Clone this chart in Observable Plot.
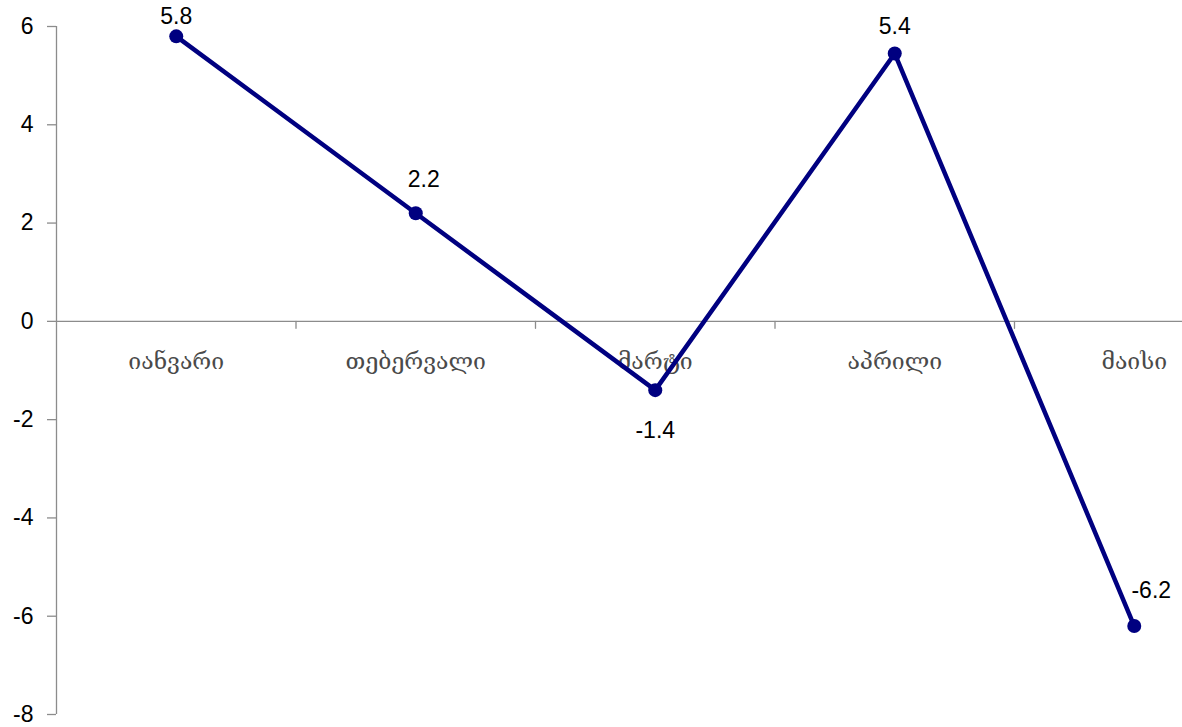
<!DOCTYPE html>
<html>
<head>
<meta charset="utf-8">
<script src="https://cdn.jsdelivr.net/npm/d3@7"></script>
<script src="https://cdn.jsdelivr.net/npm/@observablehq/plot@0.6"></script>
<style>
  html, body { margin: 0; padding: 0; background: #fff; overflow: hidden; }
  #chart { width: 1182px; height: 727px; }
</style>
</head>
<body>
<div id="chart"></div>
<script>
const months = ["იანვარი", "თებერვალი", "მარტი", "აპრილი", "მაისი"];
const values = [5.8, 2.2, -1.4, 5.45, -6.2];
const valueLabels = ["5.8", "2.2", "-1.4", "5.4", "-6.2"];
const yTicks = [-8, -6, -4, -2, 0, 2, 4, 6];

const data = months.map((m, i) => ({month: m, i, value: values[i], label: valueLabels[i]}));
const boundaries = months.slice(0, -1).map((m, i) => i + 0.5);

const numFont = "Liberation Sans, Arial, sans-serif";
const axisGray = "#8c8c8c";
const navy = "#000080";

const tickShape = {draw(context, l) { context.moveTo(0, 0); context.lineTo(0, l); }};

function valueText(idx, opts) {
  return Plot.text(data.filter(d => d.i === idx), {
    x: "i", y: "value", text: "label",
    fontSize: 23, fontFamily: numFont, fill: "#000",
    ...opts
  });
}

const chart = Plot.plot({
  width: 1182,
  height: 727,
  marginLeft: 56,
  marginTop: 26,
  marginBottom: 13,
  marginRight: 0,
  style: {background: "#fff", overflow: "hidden"},
  x: {type: "linear", domain: [-0.5, 4.5], range: [56, 1253.5], axis: null},
  y: {domain: [-8, 6], range: [714, 26]},
  marks: [
    Plot.ruleX([-0.5], {y1: -8, y2: 6, stroke: axisGray, strokeWidth: 1.3}),
    Plot.ruleY([0], {x1: -0.5, x2: 4.5, stroke: axisGray, strokeWidth: 1.3}),
    Plot.vector(boundaries, {x: d => d, y: 0, length: 7, anchor: "start", shape: tickShape, stroke: axisGray, strokeWidth: 1.3}),
    Plot.axisY({ticks: yTicks, tickSize: 9, tickPadding: 14, stroke: axisGray, strokeWidth: 1.3,
      fontSize: 23, fontFamily: numFont, fill: "#000", tickFormat: d => String(d), label: null}),
    Plot.text(data, {x: "i", y: 0, text: "month", dy: 40, fontSize: 23,
      fontFamily: "DejaVu Serif, serif", fill: "#4a4a4a", fontWeight: 300}),
    Plot.line(data, {x: "i", y: "value", stroke: navy, strokeWidth: 4.5}),
    Plot.dot(data, {x: "i", y: "value", r: 7, fill: navy, stroke: "none"}),
    valueText(0, {dy: -20}),
    valueText(1, {dy: -34, dx: 8}),
    valueText(2, {dy: 40}),
    valueText(3, {dy: -27}),
    valueText(4, {dy: -35, dx: 17})
  ]
});
chart.querySelectorAll("g[aria-label='y-axis tick label'] text").forEach(t => t.setAttribute("fill", "#000"));
document.getElementById("chart").appendChild(chart);
</script>
</body>
</html>
